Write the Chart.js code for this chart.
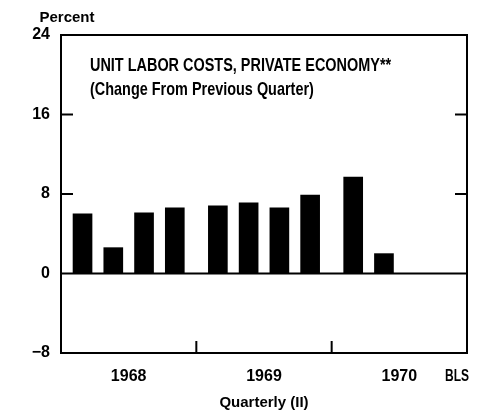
<!DOCTYPE html>
<html><head><meta charset="utf-8">
<script src="https://cdn.jsdelivr.net/npm/chart.js@4/dist/chart.umd.min.js"></script>
<style>html,body{margin:0;padding:0;background:#fff}#wrap{width:483px;height:413px;position:relative}</style>
</head><body><div id="wrap"><canvas id="c" width="483" height="413"></canvas></div>
<script>
// ---- data ----
const years = ['1968', '1969', '1970'];
const quarters = ['1968 I', '1968 II', '1968 III', '1968 IV', '1969 I', '1969 II', '1969 III', '1969 IV', '1970 I', '1970 II'];
const values = [6.0, 2.6, 6.1, 6.6, 6.8, 7.1, 6.6, 7.9, 9.7, 2.0];
const yTicks = [-8, 0, 8, 16, 24];
const titleLines = ['UNIT LABOR COSTS, PRIVATE ECONOMY**', '(Change From Previous Quarter)'];
const unitLabel = 'Percent';
const xTitle = 'Quarterly (II)';
const sourceLabel = 'BLS';

// ---- layout helpers (quarter -> position on the year axis, with a small gap between years) ----
const romans = ['I', 'II', 'III', 'IV'];
function quarterPos(label) {
  const [yr, q] = label.split(' ');
  const yi = years.indexOf(yr);
  const qi = romans.indexOf(q);
  return yi + (qi + 0.7) / 4.4;
}
const points = quarters.map((q, i) => ({ x: quarterPos(q), y: values[i] }));

const FONT = "'Liberation Sans', Arial, sans-serif";

function line(ctx, x1, y1, x2, y2) {
  ctx.beginPath(); ctx.moveTo(x1, y1); ctx.lineTo(x2, y2); ctx.stroke();
}
function condensedText(ctx, text, x, y, sx, align) {
  ctx.save();
  ctx.translate(x, y);
  ctx.scale(sx, 1);
  ctx.textAlign = align || 'left';
  ctx.fillText(text, 0, 0);
  ctx.restore();
}

const decor = {
  id: 'decor',
  afterDatasetsDraw(chart) {
    const { ctx, chartArea: a, scales: { x, y } } = chart;
    ctx.save();
    ctx.strokeStyle = '#000';
    ctx.lineWidth = 2;
    ctx.strokeRect(a.left, a.top, a.right - a.left, a.bottom - a.top);
    const y0 = y.getPixelForValue(0);
    line(ctx, a.left, y0, a.right, y0);
    yTicks.forEach(v => {
      if (v === 0 || v === y.min || v === y.max) return;
      const py = y.getPixelForValue(v);
      line(ctx, a.left, py, a.left + 12, py);
      line(ctx, a.right - 12, py, a.right, py);
    });
    for (let i = 1; i < years.length; i++) {
      const px = x.getPixelForValue(i);
      line(ctx, px, a.bottom, px, a.bottom - 12);
    }
    ctx.fillStyle = '#000';
    ctx.textBaseline = 'alphabetic';
    ctx.font = 'bold 19px ' + FONT;
    condensedText(ctx, titleLines[0], a.left + 29, a.top + 36, 0.76);
    condensedText(ctx, titleLines[1], a.left + 29, a.top + 60, 0.76);
    ctx.font = 'bold 15px ' + FONT;
    ctx.textBaseline = 'middle';
    ctx.textAlign = 'center';
    ctx.fillText(unitLabel, 67, 18);
    ctx.font = 'bold 16px ' + FONT;
    condensedText(ctx, sourceLabel, a.right - 10, 377, 0.75, 'center');
    ctx.restore();
  }
};

new Chart(document.getElementById('c'), {
  type: 'bar',
  data: {
    datasets: [{
      data: points,
      backgroundColor: '#000',
      borderWidth: 0,
      barThickness: 19
    }]
  },
  options: {
    responsive: false,
    animation: false,
    layout: { padding: { top: 35, right: 16, left: 0, bottom: 0 } },
    plugins: { legend: { display: false }, tooltip: { enabled: false }, title: { display: false } },
    scales: {
      x: {
        type: 'linear',
        offset: false,
        min: 0,
        max: years.length,
        grid: { display: false, drawTicks: false, offset: false },
        border: { display: false },
        afterBuildTicks: s => { s.ticks = years.map((yr, i) => ({ value: i + 0.5 })); },
        afterFit: s => { s.height = 60; },
        ticks: {
          color: '#000',
          font: { family: FONT, size: 16, weight: 'bold' },
          padding: 14,
          maxRotation: 0,
          autoSkip: false,
          callback: v => years[Math.floor(v)]
        },
        title: {
          display: true,
          text: xTitle,
          color: '#000',
          font: { family: FONT, size: 15, weight: 'bold' },
          padding: { top: 0, bottom: 1 }
        }
      },
      y: {
        min: yTicks[0],
        max: yTicks[yTicks.length - 1],
        grid: { display: false, drawTicks: false },
        border: { display: false },
        afterBuildTicks: s => { s.ticks = yTicks.map(v => ({ value: v })); },
        afterFit: s => { s.width = 61; },
        ticks: {
          color: '#000',
          font: { family: FONT, size: 16, weight: 'bold' },
          padding: 11,
          callback: v => (v < 0 ? '\u2212' + Math.abs(v) : String(v))
        }
      }
    }
  },
  plugins: [decor]
});
</script>
</body></html>
